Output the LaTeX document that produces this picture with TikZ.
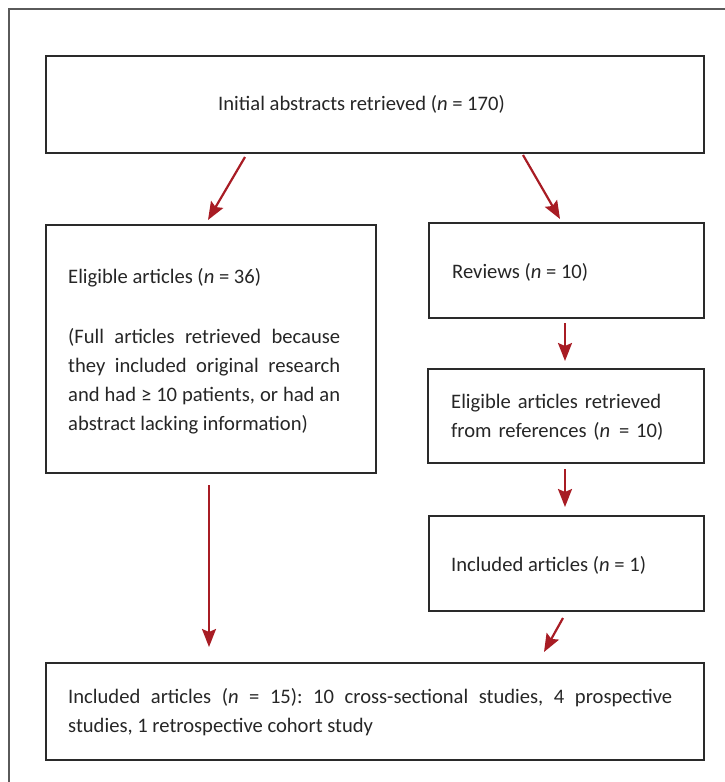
\documentclass[tikz,border=0pt]{standalone}
\usepackage{fontspec}
\setmainfont{Carlito}
\usetikzlibrary{arrows.meta}
\definecolor{arrred}{HTML}{A81C24}
\definecolor{boxline}{HTML}{2A2A2A}
\definecolor{frameline}{HTML}{5A5A5A}
\newcommand{\flowfont}{\fontsize{20.6}{29}\selectfont\frenchspacing\hyphenpenalty=10000\relax}
\begin{document}
\begin{tikzpicture}[x=1pt,y=-1pt,
  flowbox/.style={draw=boxline,line width=1.8pt,inner sep=0pt,anchor=north west},
  txt/.style={inner sep=0pt,anchor=base west,font=\flowfont,text=black!85},
  flowarrow/.style={draw=arrred,line width=2.2pt,-{Stealth[length=18pt,width=14pt,inset=3pt]}}]
\useasboundingbox (0,0) rectangle (724,782);
\draw[frameline,line width=1.3pt] (9,790) -- (9,9) -- (730,9);
% boxes
\node[flowbox,minimum width=658pt,minimum height=97pt] (init) at (45,55) {};
\node[flowbox,minimum width=330pt,minimum height=248pt] (elig) at (45,224) {};
\node[flowbox,minimum width=275pt,minimum height=95pt] (rev) at (428,222) {};
\node[flowbox,minimum width=276pt,minimum height=94pt] (refs) at (427,368) {};
\node[flowbox,minimum width=275pt,minimum height=95pt] (inc1) at (428,515) {};
\node[flowbox,minimum width=658pt,minimum height=97pt] (final) at (45,662) {};
% texts
\node[txt] (tinit) at (218,110) {Initial abstracts retrieved (\textit{n} = 170)};
\node[txt] (telig) at (68,283) {Eligible articles (\textit{n} = 36)};
\node[txt,text width=272pt,align=justify] (telig2) at (68,343) {(Full articles retrieved because\linebreak they included original research\linebreak and had ≥ 10 patients, or had an\linebreak abstract lacking information)};
\node[txt] (trev) at (452,278) {Reviews (\textit{n} = 10)};
\node[txt,text width=240pt,align=left] (trefs) at (451,408) {Eligible articles retrieved\\from references (\textit{n}\kern2pt\ = 10)};
\node[txt] (tinc1) at (451,571) {Included articles (\textit{n} = 1)};
\node[txt,text width=604pt,align=justify] (tfinal) at (68,703) {Included articles (\textit{n} = 15): 10 cross-sectional studies, 4 prospective\linebreak studies, 1 retrospective cohort study};
% arrow endpoints
\coordinate (a1s) at (245,157); \coordinate (a1e) at (208,220);
\coordinate (a2s) at (523,155); \coordinate (a2e) at (560,219);
\coordinate (a3s) at (565,323); \coordinate (a3e) at (565,361);
\coordinate (a4s) at (565,469); \coordinate (a4e) at (565,507);
\coordinate (a5s) at (209,485); \coordinate (a5e) at (209,647);
\coordinate (a6s) at (563,618); \coordinate (a6e) at (544,652);
\draw[flowarrow] (a1s) -- (a1e);
\draw[flowarrow] (a2s) -- (a2e);
\draw[flowarrow] (a3s) -- (a3e);
\draw[flowarrow] (a4s) -- (a4e);
\draw[flowarrow] (a5s) -- (a5e);
\draw[flowarrow] (a6s) -- (a6e);
\end{tikzpicture}
\end{document}
